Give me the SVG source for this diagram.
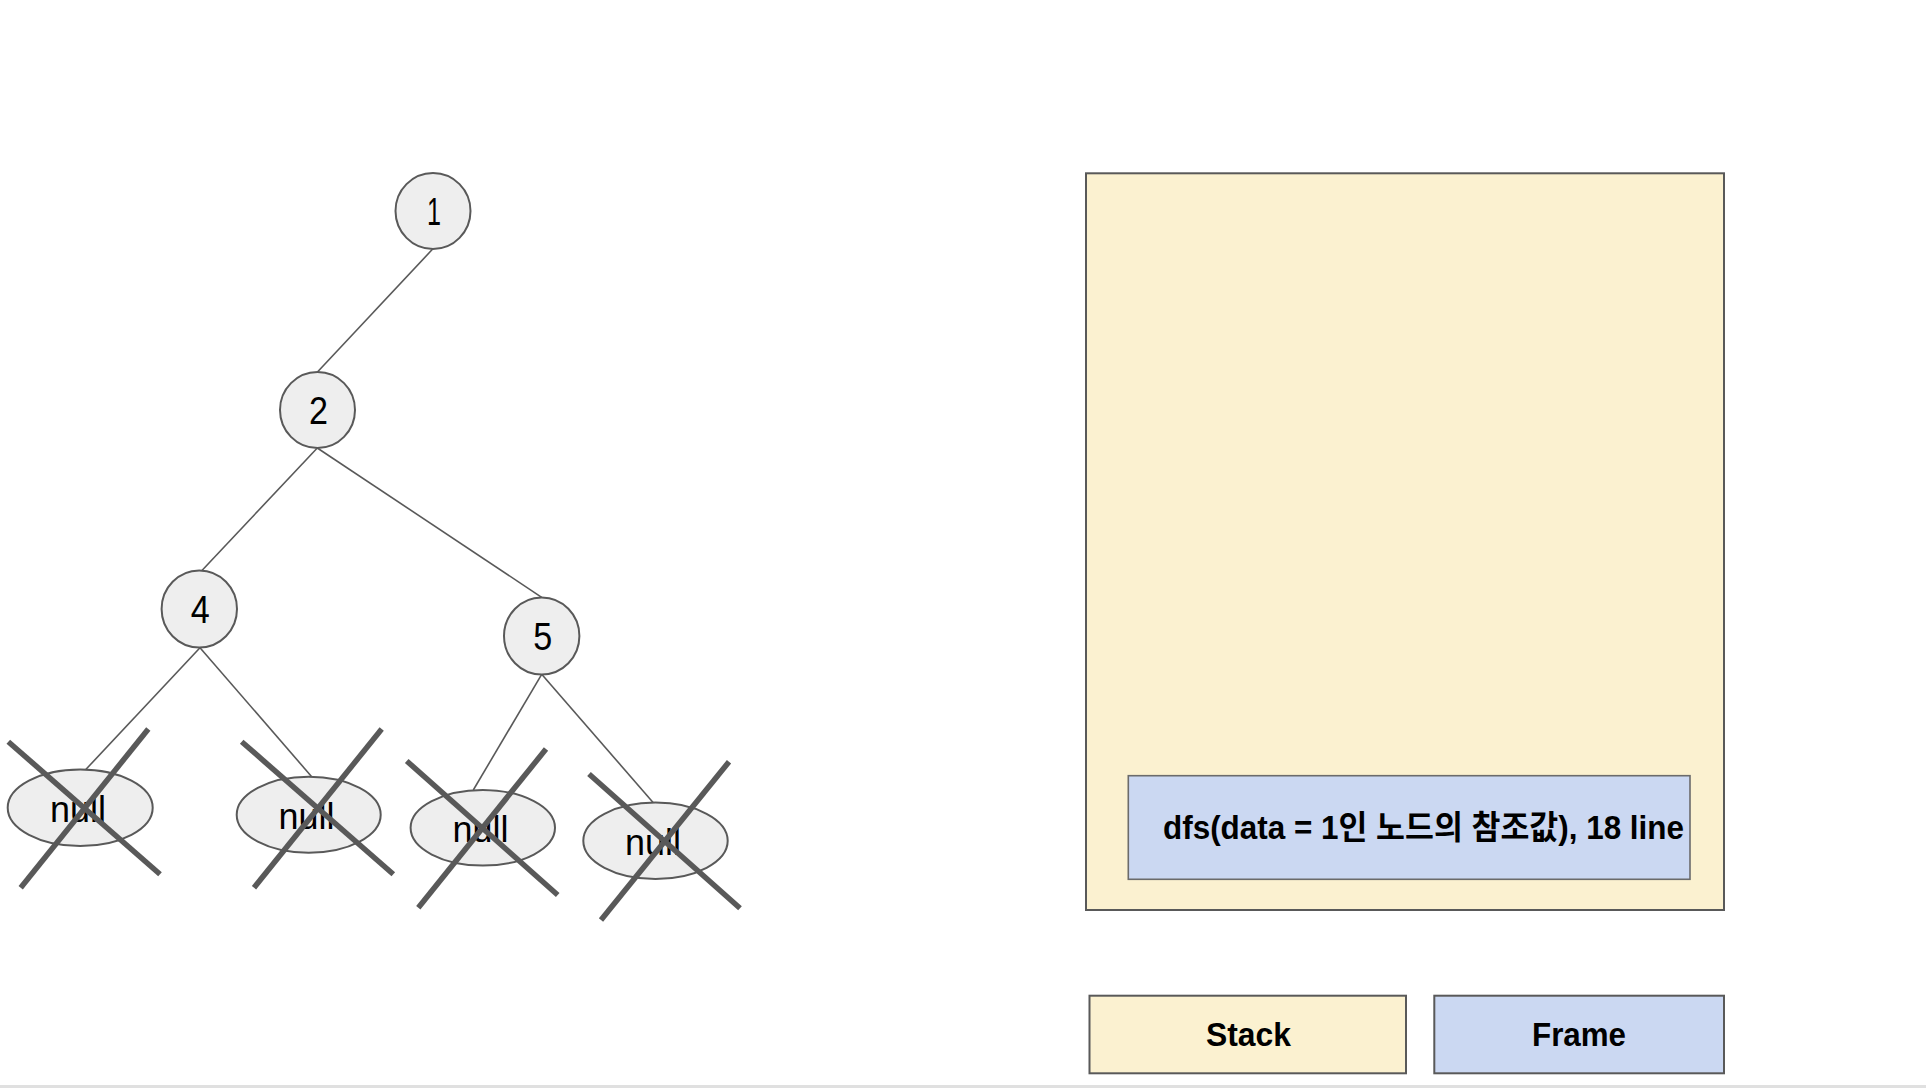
<svg xmlns="http://www.w3.org/2000/svg" width="1926" height="1088" viewBox="0 0 1926 1088">
<style>
.edge{stroke:#595959;stroke-width:1.6;fill:none}
.node{fill:#eeeeee;stroke:#595959;stroke-width:2}
.num{font-family:"Liberation Sans",Arial,sans-serif;font-size:38px;fill:#000;text-anchor:middle}
.nul{font-family:"Liberation Sans",Arial,sans-serif;font-size:37px;fill:#000;text-anchor:middle}
.cross{stroke:#595959;stroke-width:5.5;stroke-linecap:butt}
.lbl{font-family:"Liberation Sans",Arial,"Noto Sans CJK KR",sans-serif;font-weight:bold;font-size:33px;fill:#000}
</style>
<rect x="0" y="0" width="1926" height="1088" fill="#ffffff"/>
<g id="connectors">
<line class="edge" x1="432.7" y1="249" x2="317.7" y2="371.7"/>
<line class="edge" x1="317.3" y1="448" x2="201.7" y2="570.7"/>
<line class="edge" x1="317.3" y1="448" x2="541.7" y2="597.3"/>
<line class="edge" x1="200" y1="647.7" x2="86" y2="769.3"/>
<line class="edge" x1="200" y1="647.7" x2="311.7" y2="776.7"/>
<line class="edge" x1="541.7" y1="674.3" x2="473.3" y2="790"/>
<line class="edge" x1="541.7" y1="674.3" x2="653.3" y2="802.7"/>
</g>
<g id="node1"><ellipse class="node" cx="433" cy="211" rx="37.5" ry="38"/><text class="num" x="434" y="225" textLength="14" lengthAdjust="spacingAndGlyphs">1</text></g>
<g id="node2"><ellipse class="node" cx="317.5" cy="410" rx="37.5" ry="38"/><text class="num" x="318.5" y="424" textLength="19" lengthAdjust="spacingAndGlyphs">2</text></g>
<g id="node4"><ellipse class="node" cx="199.3" cy="609" rx="37.7" ry="38.5"/><text class="num" x="200.3" y="623" textLength="19" lengthAdjust="spacingAndGlyphs">4</text></g>
<g id="node5"><ellipse class="node" cx="541.7" cy="636" rx="37.7" ry="38.5"/><text class="num" x="542.7" y="650" textLength="19" lengthAdjust="spacingAndGlyphs">5</text></g>
<g id="null1"><ellipse class="node" cx="80.2" cy="807.7" rx="72.5" ry="38.3"/><text class="nul" x="78" y="821.5" textLength="56" lengthAdjust="spacingAndGlyphs">null</text>
<line class="cross" x1="8.3" y1="741.7" x2="160" y2="874.3"/><line class="cross" x1="148.3" y1="729" x2="20.7" y2="887.7"/></g>
<g id="null2"><ellipse class="node" cx="308.7" cy="814.7" rx="72" ry="38"/><text class="nul" x="306.5" y="828.5" textLength="56" lengthAdjust="spacingAndGlyphs">null</text>
<line class="cross" x1="241.7" y1="741.7" x2="393.3" y2="874.3"/><line class="cross" x1="381.7" y1="729" x2="254" y2="887.7"/></g>
<g id="null3"><ellipse class="node" cx="482.8" cy="827.8" rx="72.2" ry="37.8"/><text class="nul" x="480.5" y="841.5" textLength="56" lengthAdjust="spacingAndGlyphs">null</text>
<line class="cross" x1="406.7" y1="761" x2="557.7" y2="895"/><line class="cross" x1="546" y1="749" x2="418.3" y2="907.7"/></g>
<g id="null4"><ellipse class="node" cx="655.5" cy="840.8" rx="72.2" ry="38.2"/><text class="nul" x="653" y="854.5" textLength="56" lengthAdjust="spacingAndGlyphs">null</text>
<line class="cross" x1="589" y1="774" x2="740" y2="908.3"/><line class="cross" x1="729" y1="761.7" x2="601" y2="920"/></g>
<g id="stack"><rect x="1086" y="173.3" width="638" height="736.7" fill="#fbf1d0" stroke="#595959" stroke-width="2"/></g>
<g id="frame"><rect x="1128.3" y="775.7" width="561.7" height="103.6" fill="#cbd8f2" stroke="#6b6b6b" stroke-width="1.6"/>
<text class="lbl" x="1163" y="839.3" textLength="521" lengthAdjust="spacingAndGlyphs">dfs(data = 1인 노드의 참조값), 18 line</text></g>
<g id="legend-stack"><rect x="1089.5" y="995.7" width="316.5" height="77.6" fill="#fbf1d0" stroke="#595959" stroke-width="2"/><text class="lbl" x="1206" y="1045.7" textLength="85" lengthAdjust="spacingAndGlyphs">Stack</text></g>
<g id="legend-frame"><rect x="1434.3" y="995.7" width="289.7" height="77.6" fill="#cbd8f2" stroke="#595959" stroke-width="2"/><text class="lbl" x="1532" y="1045.7" textLength="94" lengthAdjust="spacingAndGlyphs">Frame</text></g>
<rect x="0" y="1085" width="1926" height="3" fill="#e0e0e0"/>
</svg>
